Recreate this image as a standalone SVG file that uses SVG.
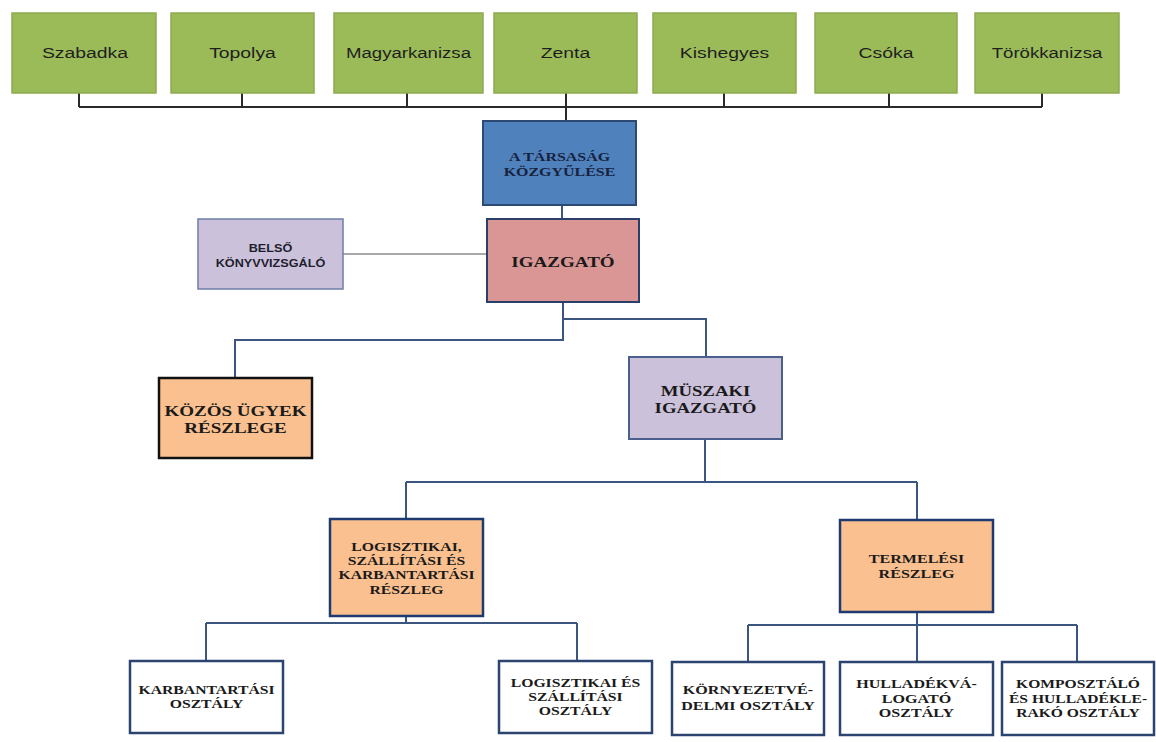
<svg xmlns="http://www.w3.org/2000/svg" width="1156" height="742" viewBox="0 0 1156 742">
<style>
.g{fill:#9BBB59;stroke:#8DAA4F;stroke-width:1.5}
.blue{fill:#4F81BD;stroke:#2C4A73;stroke-width:2}
.red{fill:#DA9694;stroke:#2B3F6B;stroke-width:2}
.lav{fill:#CCC1DA;stroke:#4A5F8C;stroke-width:2}
.lav2{fill:#CCC1DA;stroke:#6D7EA6;stroke-width:1.5}
.org{fill:#FAC08F;stroke:#1F3A70;stroke-width:2.5}
.orgk{fill:#FAC08F;stroke:#111;stroke-width:2.5}
.wht{fill:#FFFFFF;stroke:#2B4470;stroke-width:2.5}
.ts{font-family:"Liberation Sans",Arial,sans-serif;font-size:15.5px;fill:#1f1f1f;text-anchor:middle}
.tb{font-family:"Liberation Sans",Arial,sans-serif;font-size:11px;font-weight:bold;fill:#1e1e2e;text-anchor:middle}
.tr{font-family:"Liberation Serif","Times New Roman",serif;font-weight:bold;fill:#1a1a1a;text-anchor:middle}
.s12{font-size:12px}
.s14{font-size:14px}
.s15{font-size:15px}
.c1{fill:none;stroke:#2a2a2a;stroke-width:2}
.c2{fill:none;stroke:#3A5580;stroke-width:2}
.c3{fill:none;stroke:#555;stroke-width:1.2}
</style>
<rect width="1156" height="742" fill="#FFFFFF"/>
<g id="connectors">
<path class="c1" d="M79 93V107M242 93V107M407 93V107M724 93V107M889 93V107M1042 93V107M79 107H1042M566 93V121"/>
<path class="c2" d="M562 205V219"/>
<path class="c3" d="M343 254H498"/>
<path class="c2" d="M563 302V340H235V378M563 319H706V357"/>
<path class="c2" d="M705 439V482M406 482H917M406 482V519M917 482V520"/>
<path class="c2" d="M406 616V623M206 623H577M206 623V661M577 623V661"/>
<path class="c2" d="M917 612V625M748 625H1077M748 625V662M917 625V662M1077 625V662"/>
</g>
<g id="szabadka"><rect class="g" x="12" y="13" width="144" height="80"/><text class="ts" transform="translate(85 58) scale(1.25 1)">Szabadka</text></g>
<g id="topolya"><rect class="g" x="171" y="13" width="143" height="80"/><text class="ts" transform="translate(242.5 58) scale(1.25 1)">Topolya</text></g>
<g id="magyarkanizsa"><rect class="g" x="334" y="13" width="149" height="80"/><text class="ts" transform="translate(408.5 58) scale(1.2 1)">Magyarkanizsa</text></g>
<g id="zenta"><rect class="g" x="494" y="13" width="143" height="80"/><text class="ts" transform="translate(565.5 58) scale(1.25 1)">Zenta</text></g>
<g id="kishegyes"><rect class="g" x="653" y="13" width="143" height="80"/><text class="ts" transform="translate(724.5 58) scale(1.25 1)">Kishegyes</text></g>
<g id="csoka"><rect class="g" x="815" y="13" width="142" height="80"/><text class="ts" transform="translate(886 58) scale(1.25 1)">Csóka</text></g>
<g id="torokkanizsa"><rect class="g" x="975" y="13" width="144" height="80"/><text class="ts" transform="translate(1047 58) scale(1.2 1)">Törökkanizsa</text></g>
<g id="kozgyules"><rect class="blue" x="483" y="121" width="153" height="84"/>
<text class="tr s12" transform="translate(559.5 161) scale(1.33 1)" style="fill:#17223d">A TÁRSASÁG</text>
<text class="tr s12" transform="translate(559.5 176) scale(1.33 1)" style="fill:#17223d">KÖZGYŰLÉSE</text></g>
<g id="igazgato"><rect class="red" x="487" y="219" width="152" height="83"/>
<text class="tr s15" transform="translate(563 267) scale(1.27 1)">IGAZGATÓ</text></g>
<g id="belso"><rect class="lav2" x="198" y="219" width="145" height="70"/>
<text class="tb" transform="translate(270.5 252) scale(1.15 1)">BELSŐ</text>
<text class="tb" transform="translate(270.5 267) scale(1.15 1)">KÖNYVVIZSGÁLÓ</text></g>
<g id="kozos"><rect class="orgk" x="159" y="378" width="153" height="80"/>
<text class="tr s15" transform="translate(235.5 416) scale(1.27 1)">KÖZÖS ÜGYEK</text>
<text class="tr s15" transform="translate(235.5 433) scale(1.27 1)">RÉSZLEGE</text></g>
<g id="muszaki"><rect class="lav" x="629" y="357" width="153" height="82"/>
<text class="tr s14" transform="translate(705.5 396) scale(1.34 1)">MÜSZAKI</text>
<text class="tr s14" transform="translate(705.5 413) scale(1.34 1)">IGAZGATÓ</text></g>
<g id="logisztikai-reszleg"><rect class="org" x="330" y="519" width="153" height="97"/>
<text class="tr s12" transform="translate(406.5 551) scale(1.31 1)">LOGISZTIKAI,</text>
<text class="tr s12" transform="translate(406.5 565) scale(1.31 1)">SZÁLLÍTÁSI ÉS</text>
<text class="tr s12" transform="translate(406.5 579) scale(1.31 1)">KARBANTARTÁSI</text>
<text class="tr s12" transform="translate(406.5 594) scale(1.31 1)">RÉSZLEG</text></g>
<g id="termelesi"><rect class="org" x="840" y="520" width="153" height="92"/>
<text class="tr s12" transform="translate(916.5 563) scale(1.34 1)">TERMELÉSI</text>
<text class="tr s12" transform="translate(916.5 578) scale(1.34 1)">RÉSZLEG</text></g>
<g id="karbantartasi"><rect class="wht" x="130" y="661" width="153" height="72"/>
<text class="tr s12" transform="translate(206.5 694) scale(1.31 1)">KARBANTARTÁSI</text>
<text class="tr s12" transform="translate(206.5 708) scale(1.31 1)">OSZTÁLY</text></g>
<g id="logisztikai-osztaly"><rect class="wht" x="499" y="661" width="153" height="72"/>
<text class="tr s12" transform="translate(575.5 687) scale(1.31 1)">LOGISZTIKAI ÉS</text>
<text class="tr s12" transform="translate(575.5 701) scale(1.31 1)">SZÁLLÍTÁSI</text>
<text class="tr s12" transform="translate(575.5 715) scale(1.31 1)">OSZTÁLY</text></g>
<g id="kornyezetvedelmi"><rect class="wht" x="672" y="662" width="152" height="73"/>
<text class="tr s12" transform="translate(748 694) scale(1.34 1)">KÖRNYEZETVÉ-</text>
<text class="tr s12" transform="translate(748 710) scale(1.34 1)">DELMI OSZTÁLY</text></g>
<g id="hulladekvalogato"><rect class="wht" x="840" y="662" width="153" height="73"/>
<text class="tr s12" transform="translate(916.5 688) scale(1.34 1)">HULLADÉKVÁ-</text>
<text class="tr s12" transform="translate(916.5 703) scale(1.34 1)">LOGATÓ</text>
<text class="tr s12" transform="translate(916.5 717) scale(1.34 1)">OSZTÁLY</text></g>
<g id="komposztalo"><rect class="wht" x="1002" y="662" width="152" height="73"/>
<text class="tr s12" transform="translate(1078 688) scale(1.3 1)">KOMPOSZTÁLÓ</text>
<text class="tr s12" transform="translate(1078 703) scale(1.3 1)">ÉS HULLADÉKLE-</text>
<text class="tr s12" transform="translate(1078 717) scale(1.3 1)">RAKÓ OSZTÁLY</text></g>
</svg>
